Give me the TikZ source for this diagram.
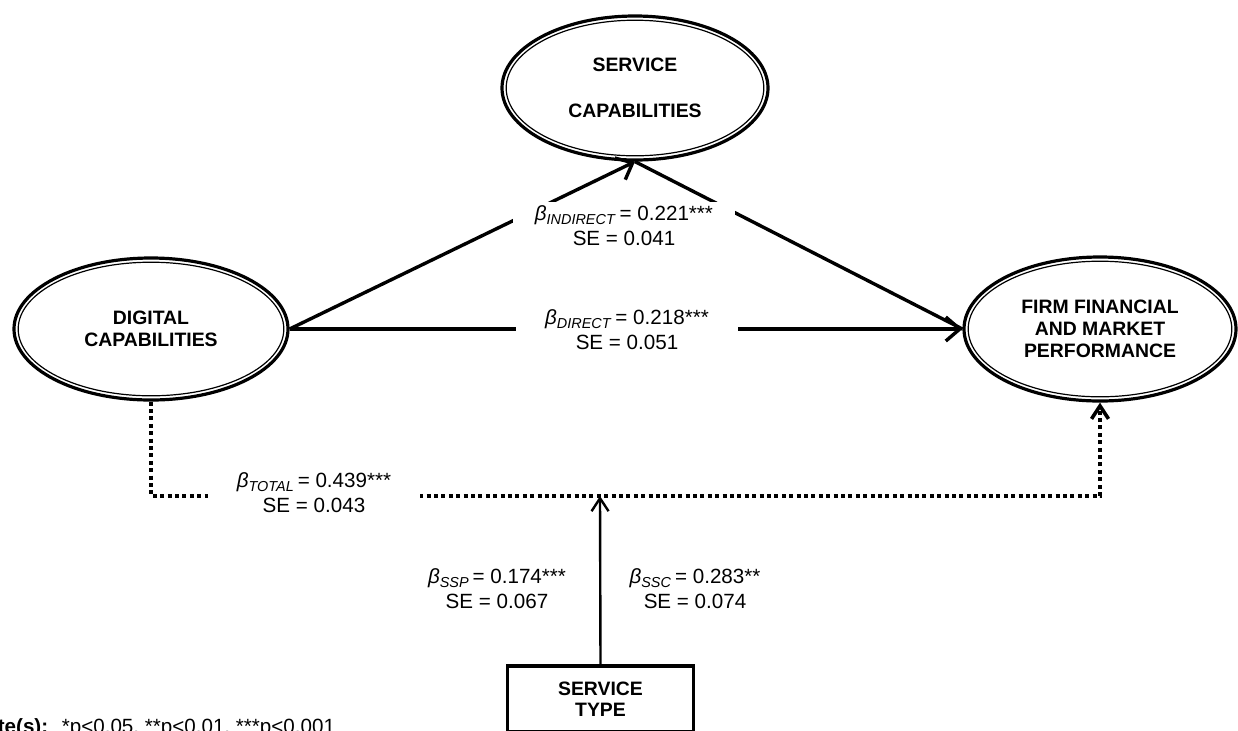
\documentclass[tikz,border=0pt]{standalone}
\usepackage{fontspec}
\setmainfont{Liberation Sans}
\usetikzlibrary{shapes.geometric,arrows.meta}
\tikzset{
  ellnode/.style={ellipse, draw, line width=1.6pt, align=center, inner sep=0pt,
    font=\bfseries\fontsize{9.7}{11}\selectfont},
  ellinner/.style={line width=0.6pt},
  boxnode/.style={rectangle, draw, line width=1.9pt, align=center, inner sep=0pt,
    font=\bfseries\fontsize{9.7}{10.5}\selectfont},
  lbl/.style={fill=white, align=center, inner xsep=2pt, inner ysep=2pt,
    font=\fontsize{10.3}{12.5}\selectfont},
  conn/.style={line width=1.7pt},
  barb/.style={-{Straight Barb[length=7pt,width=12pt]}},
  smallbarb/.style={-{Straight Barb[length=6.5pt,width=8.5pt]}},
  dotl/.style={line width=1.8pt, dash pattern=on 2pt off 1.7pt},
  notetext/.style={anchor=base west, inner sep=0pt, font=\fontsize{10.3}{12}\selectfont}
}
\newcommand{\bsub}[1]{\textit{β}\textsubscript{\textit{#1}}\hspace{1.5pt}}
\begin{document}
\begin{tikzpicture}[x=0.5pt,y=-0.5pt]
\clip (0,0) rectangle (1238,730);
% latent constructs
\node[ellnode, minimum width=133pt, minimum height=72pt] (serv) at (635,88) {SERVICE\\[12pt]CAPABILITIES};
\node[ellnode, minimum width=137pt, minimum height=71pt] (dig) at (151,329) {DIGITAL\\CAPABILITIES};
\node[ellnode, minimum width=136pt, minimum height=72pt] (firm) at (1100,329) {FIRM FINANCIAL\\AND MARKET\\PERFORMANCE};
\draw[ellinner] (serv.center) ellipse [x radius=64.4pt, y radius=33.9pt];
\draw[ellinner] (dig.center) ellipse [x radius=66.4pt, y radius=33.4pt];
\draw[ellinner] (firm.center) ellipse [x radius=65.9pt, y radius=33.9pt];
% moderator
\node[boxnode, minimum width=93pt, minimum height=33pt] (stype) at (600.5,699) {SERVICE\\TYPE};
\coordinate (join) at (600,496);
% paths
\draw[conn, barb] (dig.east) -- (serv.south);
\draw[conn] (serv.south) -- (firm.west);
\draw[conn, barb] (dig.east) -- (firm.west);
\draw[dotl, smallbarb] (dig.south) |- (join) -| (firm.south);
\draw[conn, line width=1.2pt, smallbarb] (stype.north) -- (join);
% labels
\node[lbl, minimum width=111pt] (lind) at (624,226) {\bsub{INDIRECT}= 0.221***\\SE = 0.041};
\node[lbl, minimum width=111pt] (ldir) at (627,330) {\bsub{DIRECT}= 0.218***\\SE = 0.051};
\node[lbl, minimum width=106pt] (ltot) at (314,493) {\bsub{TOTAL}= 0.439***\\SE = 0.043};
\node[lbl] (lssp) at (497,589) {\bsub{SSP}= 0.174***\\SE = 0.067};
\node[lbl] (lssc) at (695,589) {\bsub{SSC}= 0.283**\\SE = 0.074};
\node[notetext] (note) at (-30,733) {\textbf{Note(s):}\hspace{3pt} *p<0.05, **p<0.01, ***p<0.001};
\end{tikzpicture}
\end{document}
